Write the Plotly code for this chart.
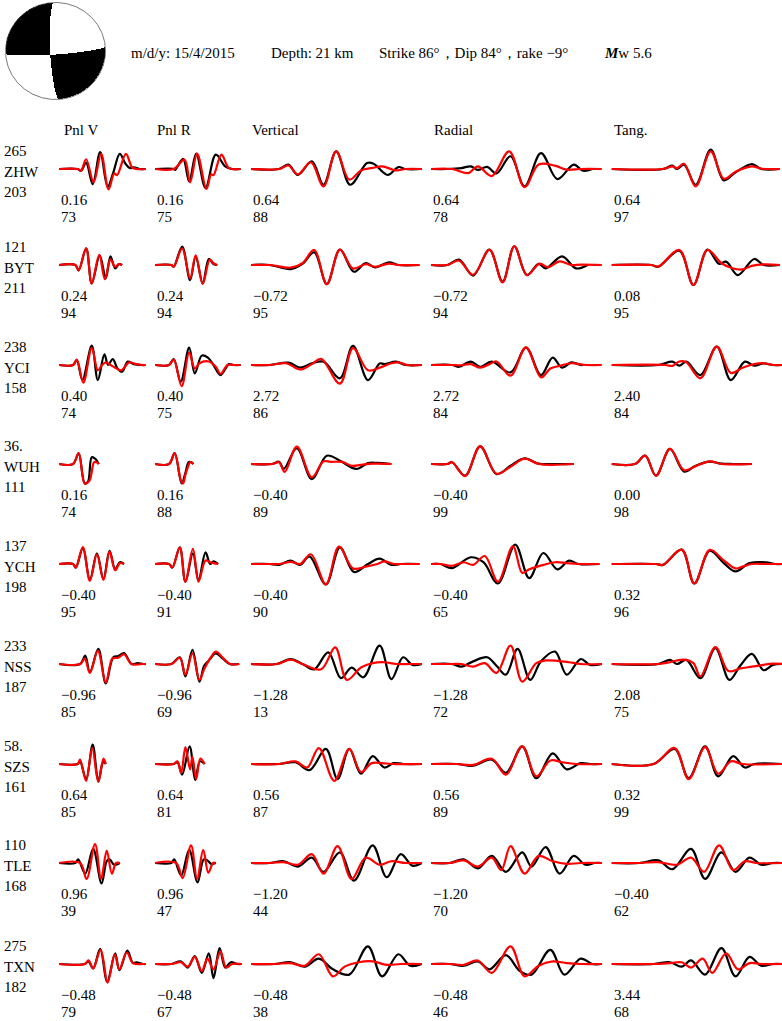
import numpy as np
import plotly.graph_objects as go

W, H = 782, 1021

# ---------------- data ----------------
stations = ["ZHW", "BYT", "YCI", "WUH", "YCH", "NSS", "SZS", "TLE", "TXN"]
azimuths = ["265", "121", "238", "36.", "137", "233", "58.", "110", "275"]
distances = ["203", "211", "158", "111", "198", "187", "161", "168", "182"]
components = ["Pnl V", "Pnl R", "Vertical", "Radial", "Tang."]

time_shift = [
    [0.16, 0.16, 0.64, 0.64, 0.64],
    [0.24, 0.24, -0.72, -0.72, 0.08],
    [0.40, 0.40, 2.72, 2.72, 2.40],
    [0.16, 0.16, -0.40, -0.40, 0.00],
    [-0.40, -0.40, -0.40, -0.40, 0.32],
    [-0.96, -0.96, -1.28, -1.28, 2.08],
    [0.64, 0.64, 0.56, 0.56, 0.32],
    [0.96, 0.96, -1.20, -1.20, -0.40],
    [-0.48, -0.48, -0.48, -0.48, 3.44],
]
cross_corr = [
    [73, 75, 88, 78, 97],
    [94, 94, 95, 94, 95],
    [74, 75, 86, 84, 84],
    [74, 88, 89, 99, 98],
    [95, 91, 90, 65, 96],
    [85, 69, 13, 72, 75],
    [85, 81, 87, 89, 99],
    [39, 47, 44, 70, 62],
    [79, 67, 38, 46, 68],
]

event_date = "15/4/2015"
depth_km = 21
strike, dip, rake = 86, 84, -9
mw = 5.6

# waveforms: per component list of [time, normalized amplitude] samples
obs_ZHW = [
    [[0,0],[40,0],[47,-0.1],[58,0.35],[72,-0.85],[88,0.95],[104,-1.0],[116,-0.2],[130,0.85],[142,0.3],[152,0.05],[160,0.1],[172,0],[186,0]],
    [[0,0],[40,0],[43,-0.05],[60,0.57],[73,-0.7],[88,0.87],[108,-1.07],[130,0.81],[150,0.15],[165,0],[183,0]],
    [[0,0],[60,0],[80,0.25],[100,-0.34],[130,0.43],[155,-0.89],[182,1.0],[212,-0.89],[248,0.34],[262,0.3],[292,-0.34],[315,0.11],[330,0],[365,0]],
    [[0,0],[35,0],[65,0.05],[85,0.15],[100,-0.05],[120,0.12],[140,-0.25],[170,0.72],[200,-0.98],[235,0.9],[270,-0.57],[305,0.25],[325,-0.1],[345,0]],
    [[0,0],[110,0],[130,0.19],[140,0],[155,0.25],[180,-0.89],[212,1.09],[240,-0.64],[265,-0.19],[300,0.28],[320,0],[360,0]],
]
syn_ZHW = [
    [[0,0],[40,0],[47,-0.1],[58,0.55],[74,-0.75],[90,0.85],[106,-1.15],[118,-0.25],[124,-0.35],[143,0.85],[156,0.1],[165,0],[186,0]],
    [[0,0],[40,0],[63,0.53],[75,-0.75],[90,0.87],[110,-1.13],[120,-0.3],[125,-0.35],[142,0.81],[158,0.05],[183,0]],
    [[0,0],[60,0],[80,0.2],[100,-0.3],[128,0.38],[155,-0.98],[182,1.0],[210,-0.6],[235,-0.08],[260,0.06],[280,0.15],[310,-0.08],[330,0],[365,0]],
    [[0,0],[45,0],[80,-0.23],[100,0.15],[130,-0.4],[167,1.0],[200,-1.02],[230,0.25],[265,0.19],[290,-0.04],[320,0],[365,0]],
    [[0,0],[110,0],[130,0.15],[140,0.05],[155,0.3],[180,-0.98],[212,1.0],[240,-0.55],[265,-0.15],[300,0.15],[320,0.02],[360,0]],
]
obs_BYT = [
    [[0,0],[35,0],[42,-0.3],[58,0.94],[70,-1.04],[87,0.53],[100,-0.75],[110,0.49],[120,-0.19],[128,0.05],[135,0]],
    [[0,0],[35,0],[40,-0.1],[58,1.04],[75,-0.85],[87,0.49],[102,-1.04],[115,0.34],[125,0.05],[133,0]],
    [[0,0],[40,0],[85,-0.23],[110,0.06],[135,0.72],[162,-1.08],[190,0.87],[220,-0.38],[245,0.11],[265,-0.13],[295,0.15],[315,0],[360,0]],
    [[0,0],[35,0],[60,0.3],[90,-0.6],[125,0.87],[153,-0.94],[178,1.06],[205,-0.57],[230,0.06],[245,-0.19],[280,0.49],[310,-0.19],[335,0]],
    [[0,0],[85,0],[100,-0.1],[145,0.81],[175,-1.13],[205,0.87],[230,0.06],[245,0.19],[270,-0.57],[305,0.34],[325,0],[360,0]],
]
syn_BYT = [
    [[0,0],[35,0],[42,-0.3],[58,0.94],[70,-1.04],[86,0.57],[98,-0.8],[110,0.3],[120,-0.1],[128,0.05],[135,0]],
    [[0,0],[35,0],[40,-0.1],[58,0.94],[75,-0.75],[87,0.55],[102,-1.06],[117,0.3],[125,0.1],[133,0]],
    [[0,0],[40,0],[85,-0.15],[110,0.1],[135,0.85],[162,-1.08],[190,0.87],[218,-0.2],[245,0.05],[265,-0.1],[295,0.08],[315,0],[360,0]],
    [[0,0],[35,0],[60,0.25],[90,-0.55],[125,0.85],[153,-0.98],[178,1.06],[205,-0.57],[232,0.08],[250,-0.12],[275,0.2],[300,0.0],[320,0.02],[365,0]],
    [[0,0],[85,0],[100,-0.08],[145,0.85],[175,-1.13],[205,0.85],[235,0.1],[260,-0.2],[280,-0.25],[300,-0.05],[325,0.03],[360,0]],
]
obs_YCI = [
    [[0,0],[30,0],[38,0.28],[50,-0.85],[70,1.09],[83,-0.85],[97,0.6],[105,0],[115,0.34],[125,-0.2],[135,-0.38],[147,0.19],[160,0.05],[175,0],[185,0]],
    [[0,0],[30,0],[40,0.34],[55,-0.94],[73,0.98],[85,-0.47],[100,0.53],[113,0.42],[125,0],[140,-0.57],[158,0.05],[168,0],[183,0]],
    [[0,0],[40,0],[80,0.13],[105,-0.15],[130,0.09],[155,0.19],[190,-0.75],[218,1.08],[250,-0.85],[275,0.09],[285,0.05],[310,0.19],[330,0],[365,0]],
    [[0,0],[45,0],[60,-0.1],[85,0.19],[105,-0.1],[130,0.19],[170,-0.42],[203,0.98],[235,-0.57],[260,0.42],[280,-0.15],[300,0.15],[320,0],[325,0]],
    [[0,0],[100,0],[130,0.19],[145,-0.04],[160,0.19],[190,-0.57],[225,1.04],[255,-0.85],[285,0.19],[305,-0.04],[325,0.09],[345,0],[365,0]],
]
syn_YCI = [
    [[0,0],[30,0],[38,0.3],[52,-1.0],[70,0.95],[83,-0.3],[92,0.0],[100,0.15],[110,0.0],[120,-0.15],[133,-0.3],[150,0.15],[165,0.05],[180,0],[185,0]],
    [[0,0],[30,0],[40,0.3],[57,-1.2],[73,0.7],[85,-0.2],[95,0.1],[115,0.2],[130,-0.1],[140,-0.5],[155,0.0],[168,0],[183,0]],
    [[0,0],[40,0],[75,0.1],[105,-0.25],[130,0.05],[150,0.35],[190,-1.05],[218,0.95],[250,-0.3],[275,-0.15],[300,0.1],[315,0.15],[335,0],[365,0]],
    [[0,0],[45,0],[60,-0.02],[85,0.05],[105,-0.15],[125,0.05],[140,0.2],[170,-0.6],[203,1.0],[235,-0.7],[255,-0.2],[275,-0.05],[300,0.1],[330,0],[365,0]],
    [[0,0],[115,0],[130,-0.05],[145,0.2],[160,0.15],[190,-0.75],[225,1.04],[255,-0.45],[280,-0.15],[305,0.05],[325,0.1],[345,0],[365,0]],
]
obs_WUH = [
    [[0,0],[30,0],[42,0.6],[55,-1.1],[62,-1.0],[70,0.38],[78,0.28],[85,0]],
    [[0,0],[30,0],[42,0.62],[57,-1.1],[65,-0.5],[72,0.1],[78,0.1],[82,0]],
    [[0,0],[45,0],[60,0.13],[70,-0.28],[98,0.89],[130,-0.85],[162,0.47],[190,0.19],[225,-0.28],[250,0.05],[270,0.06],[300,0]],
    [[0,0],[35,0],[45,0.1],[73,-0.66],[105,1.0],[140,-0.57],[170,-0.1],[200,0.32],[230,0.02],[270,0],[305,0]],
    [[0,0],[50,0],[72,0.47],[95,-0.66],[125,0.85],[155,-0.43],[180,-0.1],[210,0.13],[235,0.02],[260,0],[300,0]],
]
syn_WUH = [
    [[0,0],[30,0],[42,0.62],[55,-1.1],[65,-0.95],[75,0.1],[80,0.1],[85,0]],
    [[0,0],[30,0],[42,0.6],[55,-0.9],[60,-1.1],[65,-0.6],[70,-0.2],[75,0.1],[82,0]],
    [[0,0],[45,0],[60,0.1],[72,-0.45],[98,0.98],[130,-0.75],[155,0.15],[170,0.12],[195,0.12],[215,-0.1],[235,-0.05],[260,0.02],[300,0]],
    [[0,0],[35,0],[45,0.1],[73,-0.68],[105,1.0],[140,-0.55],[170,-0.15],[200,0.3],[230,0],[305,0]],
    [[0,0],[50,0],[72,0.47],[95,-0.66],[125,0.85],[155,-0.35],[180,-0.12],[210,0.15],[235,0],[300,0]],
]
obs_YCH = [
    [[0,0],[30,0],[36,-0.2],[51,0.9],[66,-0.9],[81,0.6],[95,-0.85],[108,0.75],[120,-0.3],[130,0.1],[139,0]],
    [[0,0],[30,0],[37,-0.2],[53,0.94],[65,-1.0],[81,0.6],[93,-0.9],[108,0.66],[118,0],[125,0.15],[135,0]],
    [[0,0],[40,0],[60,-0.05],[85,0.19],[105,-0.05],[125,0.43],[160,-1.15],[190,0.94],[220,-0.45],[250,0],[275,0.3],[300,-0.05],[320,0],[360,0]],
    [[0,0],[20,0],[45,-0.23],[85,0.38],[112,0.1],[143,-1.1],[180,1.1],[210,-0.8],[240,0.62],[270,-0.3],[295,0.19],[315,0],[360,0]],
    [[0,0],[95,0],[110,-0.05],[150,0.81],[177,-1.1],[210,0.75],[240,0.05],[265,-0.42],[295,0.05],[330,0.1],[350,0],[365,0]],
]
syn_YCH = [
    [[0,0],[30,0],[36,-0.2],[51,0.95],[66,-0.95],[81,0.55],[95,-0.9],[108,0.7],[120,-0.35],[130,0.05],[139,0]],
    [[0,0],[30,0],[37,-0.2],[53,0.94],[65,-1.0],[81,0.85],[93,-1.0],[108,0.2],[118,0.1],[125,0.05],[135,0]],
    [[0,0],[40,0],[60,0],[85,0.12],[105,0.0],[128,0.55],[160,-1.15],[188,0.98],[218,-0.25],[245,-0.15],[270,0.0],[285,0.15],[305,0.0],[320,0],[360,0]],
    [[0,0],[20,0],[45,-0.1],[70,0.1],[90,-0.05],[115,0.45],[143,-1.0],[175,1.0],[195,-0.5],[210,-0.3],[240,-0.05],[265,0.1],[290,0.05],[315,0],[360,0]],
    [[0,0],[95,0],[110,-0.05],[150,0.81],[177,-1.1],[210,0.8],[240,0.2],[265,-0.25],[280,-0.15],[300,0.0],[330,0],[365,0]],
]
obs_NSS = [
    [[0,0],[45,0],[56,0.47],[66,-0.47],[84,0.85],[100,-1.1],[116,0.38],[127,0.45],[139,0.62],[155,0.0],[168,0.05],[180,0],[186,0]],
    [[0,0],[35,0],[53,0.38],[65,-0.7],[80,0.8],[95,-1.0],[105,-0.1],[115,0.2],[130,0.6],[145,0.3],[160,0],[180,0]],
    [[0,0],[55,0],[85,0.28],[110,0.0],[135,-0.3],[165,0.66],[192,-0.8],[215,-0.2],[240,-0.75],[275,1.04],[300,-0.85],[325,0.38],[345,-0.05],[365,0]],
    [[0,0],[45,0],[65,-0.15],[90,0.15],[120,0.38],[140,-0.1],[160,-0.6],[185,0.85],[212,-0.9],[235,0.15],[265,0.7],[290,-0.6],[320,0.28],[340,-0.05],[365,0]],
    [[0,0],[100,0],[125,0.23],[140,0.0],[160,0.23],[190,-0.8],[222,0.9],[252,-0.9],[275,-0.1],[300,0.57],[325,-0.35],[345,-0.05],[365,0]],
]
syn_NSS = [
    [[0,0],[45,0],[55,0.3],[66,-0.5],[83,0.75],[100,-1.05],[114,0.3],[126,0.35],[139,0.55],[155,0.0],[180,0],[186,0]],
    [[0,0],[35,0],[53,0.35],[65,-0.6],[80,0.6],[95,-0.9],[105,-0.3],[120,0.4],[130,0.7],[145,0.35],[160,0],[180,0]],
    [[0,0],[55,0],[85,0.25],[110,0.0],[150,-0.3],[180,0.94],[205,-0.9],[235,-0.2],[260,0.05],[285,0.1],[310,0.0],[340,0],[365,0]],
    [[0,0],[45,0],[65,0.0],[90,-0.15],[115,0.05],[140,-0.5],[170,1.04],[195,-1.0],[225,0.05],[245,0.2],[270,0.18],[295,0.1],[320,0],[365,0]],
    [[0,0],[100,0],[125,0.1],[140,0.2],[155,0.25],[175,0.05],[190,-0.7],[222,0.95],[250,-0.4],[275,-0.25],[300,-0.15],[325,-0.05],[345,0.02],[365,0]],
]
obs_SZS = [
    [[0,0],[40,0],[45,0.15],[58,-0.85],[72,1.1],[84,-1.0],[93,0.05],[96,0.1],[100,0]],
    [[0,0],[40,0],[48,0.1],[58,-0.6],[74,1.0],[86,-0.9],[96,0.15],[106,0]],
    [[0,0],[60,0],[95,0.1],[125,-0.35],[160,0.85],[185,-0.85],[210,0.85],[235,-0.55],[260,0.45],[285,-0.2],[305,0.05],[325,0],[365,0]],
    [[0,0],[55,0],[90,-0.1],[130,0.25],[160,-0.5],[195,1.0],[225,-0.8],[260,0.6],[290,-0.3],[320,0.05],[340,0],[365,0]],
    [[0,0],[90,0],[135,0.85],[165,-0.8],[200,1.0],[228,-0.7],[260,0.45],[285,-0.2],[305,0],[365,0]],
]
syn_SZS = [
    [[0,0],[40,0],[45,0.25],[58,-0.95],[71,0.9],[84,-1.0],[95,0.3],[100,0]],
    [[0,0],[40,0],[48,0.15],[56,-0.5],[65,0.95],[75,-0.3],[80,0.4],[88,-0.85],[97,0.3],[106,0]],
    [[0,0],[60,0],[95,0.15],[120,-0.2],[145,0.9],[178,-0.95],[210,0.85],[235,-0.45],[258,0.05],[280,0.05],[300,0],[365,0]],
    [[0,0],[55,0],[90,-0.05],[130,0.3],[160,-0.6],[195,1.0],[225,-0.7],[255,0.2],[280,0.1],[310,0.0],[365,0]],
    [[0,0],[90,0],[135,0.9],[165,-0.85],[200,0.95],[228,-0.55],[255,0.15],[280,0.0],[365,0]],
]
obs_TLE = [
    [[0,0],[35,0],[41,0.2],[56,-0.6],[73,0.8],[91,-1.15],[102,0.1],[108,0.2],[118,-0.1],[130,0]],
    [[0,0],[35,0],[41,0.2],[56,-0.7],[73,0.75],[91,-1.1],[104,0.2],[112,0.15],[120,-0.05],[130,0]],
    [[0,0],[40,0],[70,0.1],[100,-0.2],[130,0.3],[155,-0.5],[190,0.6],[220,-1.0],[260,1.0],[290,-0.8],[320,0.5],[345,-0.15],[365,0]],
    [[0,0],[40,0],[70,0.2],[100,-0.3],[130,0.4],[160,-0.5],[195,0.6],[215,-0.2],[245,0.9],[275,-0.6],[305,0.4],[330,-0.1],[350,0],[365,0]],
    [[0,0],[60,0],[100,0.15],[130,-0.35],[170,0.8],[200,-0.9],[235,0.6],[265,-0.5],[295,0.3],[320,-0.1],[345,0],[365,0]],
]
syn_TLE = [
    [[0,0],[45,0],[59,-0.9],[77,1.07],[90,-0.9],[102,0.7],[113,-0.6],[122,0.0],[130,0]],
    [[0,0],[45,0],[59,-0.85],[77,1.0],[90,-0.9],[103,0.75],[114,-0.55],[124,0.0],[130,0]],
    [[0,0],[40,0],[70,0.05],[100,-0.1],[130,0.5],[155,-0.6],[185,0.95],[215,-0.9],[245,0.3],[275,-0.1],[300,0.1],[330,0],[365,0]],
    [[0,0],[40,0],[70,0.15],[100,-0.2],[130,0.3],[150,-0.4],[170,0.95],[200,-0.6],[230,0.4],[260,0.1],[290,-0.05],[320,0],[365,0]],
    [[0,0],[60,0],[100,0.05],[140,-0.1],[170,0.3],[198,-0.5],[230,1.0],[260,-0.4],[285,0.1],[310,0.0],[365,0]],
]
obs_TXN = [
    [[0,0],[55,0],[63,0.15],[73,-0.25],[88,0.85],[103,-1.0],[120,0.6],[129,-0.35],[146,0.75],[158,0.05],[165,0.1],[180,0],[186,0]],
    [[0,0],[35,0],[55,0.15],[70,-0.2],[85,0.45],[100,-0.5],[115,0.6],[125,-0.8],[138,0.9],[150,-0.2],[162,0.1],[175,0],[186,0]],
    [[0,0],[50,0],[85,0.1],[115,-0.15],[145,0.3],[175,-0.3],[210,-0.6],[250,1.0],[280,-0.7],[315,0.55],[340,-0.1],[365,0]],
    [[0,0],[40,0],[70,-0.1],[100,0.15],[125,-0.3],[160,0.5],[190,-0.4],[215,-0.6],[255,0.8],[285,-0.6],[320,0.3],[345,0],[365,0]],
    [[0,0],[90,0],[125,0.1],[150,-0.15],[170,0.2],[200,-0.6],[235,0.9],[265,-0.7],[295,0.4],[320,-0.1],[345,0],[365,0]],
]
syn_TXN = [
    [[0,0],[55,0],[63,0.2],[73,-0.25],[89,0.8],[104,-1.05],[119,0.55],[129,-0.3],[145,0.65],[158,0.05],[180,0],[186,0]],
    [[0,0],[35,0],[55,0.1],[70,-0.15],[85,0.4],[100,-0.4],[112,0.3],[125,-0.3],[140,0.7],[152,-0.2],[165,0],[186,0]],
    [[0,0],[50,0],[85,0.05],[115,-0.1],[145,0.55],[175,-0.7],[200,-0.15],[230,0.1],[260,0.15],[290,-0.05],[320,0],[365,0]],
    [[0,0],[40,0],[70,-0.05],[100,0.2],[130,-0.5],[170,1.0],[200,-0.7],[230,-0.1],[260,0.15],[290,0.05],[320,0],[365,0]],
    [[0,0],[90,0],[125,0.05],[150,0.1],[170,-0.2],[195,0.3],[215,-0.5],[245,0.6],[270,-0.3],[295,0.05],[320,0],[365,0]],
]

observed = [obs_ZHW, obs_BYT, obs_YCI, obs_WUH, obs_YCH, obs_NSS, obs_SZS, obs_TLE, obs_TXN]
synthetic = [syn_ZHW, syn_BYT, syn_YCI, syn_WUH, syn_YCH, syn_NSS, syn_SZS, syn_TLE, syn_TXN]

# ---------------- layout constants (pixels) ----------------
col_x0 = [59, 155, 251, 431, 611.5]
col_w = [87, 87, 172, 172, 172]
row_base = [169, 265, 365, 464, 564, 664, 764, 863, 964]
t_per_px = 2.137
amp_px = 17.7
half_h = 32
FONT = "Liberation Serif, Times New Roman, serif"


def px_x(x):
    return x / W


def px_y(y):
    return 1 - y / H


fig = go.Figure()
layout = {}

# ---------------- beach ball (from strike / dip / rake) ----------------
n = 301
g = np.linspace(-1, 1, n)
X, Y = np.meshgrid(g, g)          # X east, Y north
R = np.sqrt(X**2 + Y**2)
inc = 2 * np.arcsin(np.clip(R / np.sqrt(2), 0, 1))
az = np.arctan2(X, Y)
nN = np.sin(inc) * np.cos(az)
nE = np.sin(inc) * np.sin(az)
nD = np.cos(inc)
phi, delta, lam = np.radians([strike, dip, rake])
Mxx = -(np.sin(delta) * np.cos(lam) * np.sin(2 * phi) + np.sin(2 * delta) * np.sin(lam) * np.sin(phi) ** 2)
Myy = np.sin(delta) * np.cos(lam) * np.sin(2 * phi) - np.sin(2 * delta) * np.sin(lam) * np.cos(phi) ** 2
Mzz = np.sin(2 * delta) * np.sin(lam)
Mxy = np.sin(delta) * np.cos(lam) * np.cos(2 * phi) + 0.5 * np.sin(2 * delta) * np.sin(lam) * np.sin(2 * phi)
Mxz = -(np.cos(delta) * np.cos(lam) * np.cos(phi) + np.cos(2 * delta) * np.sin(lam) * np.sin(phi))
Myz = -(np.cos(delta) * np.cos(lam) * np.sin(phi) - np.cos(2 * delta) * np.sin(lam) * np.cos(phi))
amp = (Mxx * nN**2 + Myy * nE**2 + Mzz * nD**2 +
       2 * (Mxy * nN * nE + Mxz * nN * nD + Myz * nE * nD))
Z = np.where(R <= 1, (amp > 0).astype(float), np.nan)
fig.add_trace(go.Heatmap(x=g, y=g, z=Z, colorscale=[[0, "white"], [1, "black"]],
                         zmin=0, zmax=1, showscale=False, hoverinfo="skip",
                         xaxis="x", yaxis="y"))
th = np.linspace(0, 2 * np.pi, 361)
fig.add_trace(go.Scatter(x=np.cos(th), y=np.sin(th), mode="lines",
                         line=dict(color="#555", width=0.8), hoverinfo="skip",
                         xaxis="x", yaxis="y"))
layout["xaxis"] = dict(domain=[px_x(5), px_x(106)], range=[-1.01, 1.01], visible=False, fixedrange=True)
layout["yaxis"] = dict(domain=[px_y(100), px_y(2)], range=[-1.01, 1.01], visible=False, fixedrange=True)

# ---------------- waveform panels ----------------
k = 2
for r in range(len(stations)):
    for c in range(len(components)):
        xa, ya = f"x{k}", f"y{k}"
        x0 = col_x0[c]
        x1 = min(W, x0 + col_w[c])
        b = row_base[r]
        for data, color in ((observed[r][c], "black"), (synthetic[r][c], "#ff0000")):
            arr = np.array(data, dtype=float)
            fig.add_trace(go.Scatter(x=arr[:, 0], y=arr[:, 1], mode="lines",
                                     line=dict(color=color, width=2.2, shape="spline", smoothing=1.0),
                                     hoverinfo="skip", xaxis=xa, yaxis=ya))
        layout[f"xaxis{k}"] = dict(domain=[px_x(x0), px_x(x1)], range=[0, (x1 - x0) * t_per_px],
                                   visible=False, fixedrange=True, anchor=ya)
        layout[f"yaxis{k}"] = dict(domain=[px_y(b + half_h), px_y(b - half_h)],
                                   range=[-half_h / amp_px, half_h / amp_px],
                                   visible=False, fixedrange=True, anchor=xa)
        k += 1

# ---------------- text ----------------
ann = []


def txt(x, y, s, size=15):
    ann.append(dict(x=px_x(x), y=px_y(y), xref="paper", yref="paper", text=s,
                    showarrow=False, xanchor="left", yanchor="middle",
                    font=dict(family=FONT, size=size, color="black")))


txt(129, 53, f"m/d/y: {event_date}")
txt(269, 53, f"Depth: {depth_km} km")
txt(377, 53, f"Strike {strike}°，Dip {dip}°，rake {str(rake).replace('-', '−')}°")
txt(602, 53, f"<b><i>M</i></b>w {mw}")

header_x = [62, 155, 250, 432, 612]
for c, name in enumerate(components):
    txt(header_x[c], 130, name)


def fmt(v):
    return f"{v:.2f}".replace("-", "−")


for r in range(len(stations)):
    b = row_base[r]
    txt(2, b - 18, azimuths[r])
    txt(2, b + 3, stations[r])
    txt(2, b + 23, distances[r])
    for c in range(len(components)):
        txt(col_x0[c], b + 31, fmt(time_shift[r][c]))
        txt(col_x0[c], b + 48, str(cross_corr[r][c]))

fig.update_layout(width=W, height=H, margin=dict(l=0, r=0, t=0, b=0),
                  paper_bgcolor="white", plot_bgcolor="rgba(0,0,0,0)",
                  showlegend=False, annotations=ann, **layout)

fig.write_html("out.html", config={"displayModeBar": False},
               post_script="document.body.style.margin='0';document.body.style.overflow='hidden';")
